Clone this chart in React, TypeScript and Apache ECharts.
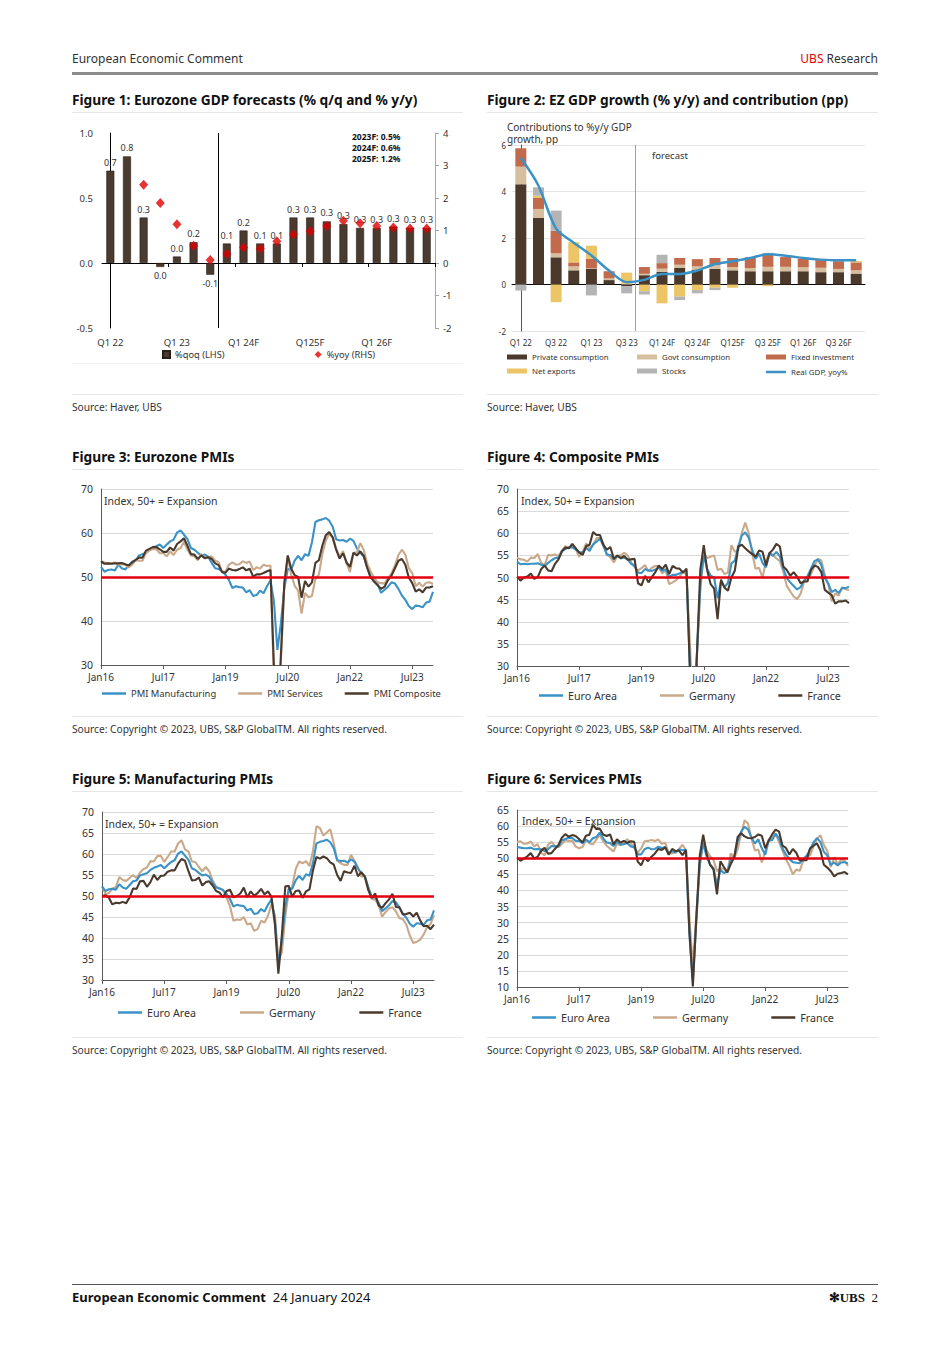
import React, { useEffect, useRef } from "react";
import * as echarts from "echarts";

const FONT = "'Noto Sans', 'Open Sans', sans-serif";
const TXT = "#333333";
const BLUE = "#3a92c6";
const TAN = "#c9a98a";
const DARK = "#4a3a2e";
const RED = "#e3000f";

// ---------- Figure 1 & 2 : quarters ----------
const QUARTERS = [
  "Q1 22", "Q2 22", "Q3 22", "Q4 22", "Q1 23", "Q2 23", "Q3 23", "Q4 23",
  "Q1 24F", "Q2 24F", "Q3 24F", "Q4 24F", "Q125F", "Q2 25F", "Q3 25F", "Q4 25F",
  "Q1 26F", "Q2 26F", "Q3 26F", "Q4 26F",
];
const GDP_QOQ = [0.71, 0.82, 0.35, -0.03, 0.05, 0.16, -0.09, 0.15, 0.25, 0.15, 0.15, 0.35, 0.35, 0.32, 0.3, 0.27, 0.27, 0.28, 0.27, 0.27];
const GDP_QOQ_LABELS = ["0.7", "0.8", "0.3", "0.0", "0.0", "0.2", "-0.1", "0.1", "0.2", "0.1", "0.1", "0.3", "0.3", "0.3", "0.3", "0.3", "0.3", "0.3", "0.3", "0.3"];
const GDP_YOY = [null, null, 2.41, 1.85, 1.19, 0.53, 0.09, 0.28, 0.48, 0.45, 0.67, 0.88, 0.98, 1.14, 1.3, 1.22, 1.14, 1.09, 1.06, 1.06];
const FORECAST_NOTE = "2023F: 0.5%\n2024F: 0.6%\n2025F: 1.2%";

const C_PRIVATE = [4.31, 2.86, 1.17, 0.61, 0.68, 0.19, -0.08, 0.4, 0.54, 0.71, 0.64, 0.67, 0.61, 0.57, 0.57, 0.57, 0.57, 0.53, 0.53, 0.47];
const C_GOVT = [0.76, 0.39, 0.17, 0.17, 0.02, 0.07, 0.03, 0.06, 0.14, 0.14, 0.14, 0.16, 0.14, 0.14, 0.19, 0.19, 0.17, 0.19, 0.14, 0.14];
const C_FIXED = [0.79, 0.47, 0.97, 0.17, 0.4, 0.31, 0.0, 0.29, 0.24, 0.29, 0.31, 0.31, 0.39, 0.46, 0.56, 0.42, 0.37, 0.33, 0.33, 0.34];
const C_NETEXP = [0.0, 0.1, -0.76, 0.87, 0.57, 0.0, 0.48, -0.29, -0.81, -0.52, -0.24, -0.14, -0.14, 0.0, -0.07, 0.0, 0.0, 0.0, 0.0, 0.06];
const C_STOCKS = [-0.26, 0.36, 0.87, 0.0, -0.47, 0.0, -0.3, -0.14, 0.36, -0.15, -0.14, -0.1, 0.0, 0.0, 0.04, 0.0, 0.0, 0.0, 0.0, 0.0];
const REAL_GDP_YOY = [5.45, 4.25, 2.4, 1.8, 1.25, 0.6, 0.1, 0.2, 0.45, 0.45, 0.6, 0.88, 1.0, 1.14, 1.3, 1.24, 1.14, 1.07, 1.04, 1.04];

// ---------- PMIs : monthly Jan16 .. Jan24 ----------
const MONTH_NAMES = ["Jan", "Feb", "Mar", "Apr", "May", "Jun", "Jul", "Aug", "Sep", "Oct", "Nov", "Dec"];
const MONTHS: string[] = [];
for (let y = 16; y <= 24; y++) {
  for (let m = 0; m < 12; m++) {
    if (y === 24 && m > 0) break;
    MONTHS.push(MONTH_NAMES[m] + y);
  }
}

const EZ_MFG = [
  52.3, 51.2, 51.6, 51.7, 51.5, 52.8, 52.0, 51.7, 52.6, 53.5, 53.7, 54.9,
  55.2, 55.4, 56.2, 56.7, 57.0, 57.4, 56.6, 57.4, 58.1, 58.5, 60.1, 60.6,
  59.6, 58.6, 56.6, 56.2, 55.5, 54.9, 55.1, 54.6, 53.2, 52.0, 51.8, 51.4,
  50.5, 49.3, 47.5, 47.9, 47.7, 47.6, 46.5, 47.0, 45.7, 45.9, 46.9, 46.3,
  47.9, 49.2, 44.5, 33.4, 39.4, 47.4, 51.8, 51.7, 53.7, 54.8, 53.8, 55.2,
  54.8, 57.9, 62.5, 62.9, 63.1, 63.4, 62.8, 61.4, 58.6, 58.3, 58.4, 58.0,
  58.7, 58.2, 56.5, 55.5, 54.6, 52.1, 49.8, 49.6, 48.4, 46.4, 47.1, 47.8,
  48.8, 48.5, 47.3, 45.8, 44.8, 43.4, 42.7, 43.5, 43.4, 43.1, 44.2, 44.4,
  46.6,
];
const EZ_SERV = [
  53.6, 53.3, 53.1, 53.1, 53.3, 52.8, 52.9, 52.8, 52.2, 52.8, 53.8, 53.7,
  53.7, 55.5, 56.0, 56.4, 56.3, 55.4, 55.4, 54.7, 55.8, 55.0, 56.2, 56.6,
  58.0, 56.2, 54.9, 54.7, 53.8, 55.2, 54.2, 54.4, 54.7, 53.7, 53.4, 51.2,
  51.2, 52.8, 53.3, 52.8, 52.9, 53.6, 53.2, 53.5, 51.6, 52.2, 51.9, 52.8,
  52.5, 52.6, 26.4, 12.0, 30.5, 48.3, 54.7, 50.5, 48.0, 46.9, 41.7, 46.4,
  45.4, 45.7, 49.6, 50.5, 55.2, 58.3, 59.8, 59.0, 56.4, 54.6, 55.9, 53.1,
  51.1, 55.5, 55.6, 57.7, 56.1, 53.0, 51.2, 49.8, 48.8, 48.6, 48.5, 49.8,
  50.8, 52.7, 55.0, 56.2, 55.1, 52.0, 50.9, 47.9, 48.7, 47.8, 48.7, 48.8,
  48.4,
];
const EZ_COMP = [
  53.6, 53.0, 53.1, 53.0, 53.1, 53.1, 53.2, 52.9, 52.6, 53.3, 53.9, 54.4,
  54.4, 56.0, 56.4, 56.8, 56.8, 56.3, 55.7, 55.7, 56.7, 56.0, 57.5, 58.1,
  58.8, 57.1, 55.2, 55.1, 54.1, 54.9, 54.3, 54.5, 54.1, 53.1, 52.7, 51.1,
  51.0, 51.9, 51.6, 51.5, 51.8, 52.2, 51.5, 51.9, 50.1, 50.6, 50.6, 50.9,
  51.3, 51.6, 29.7, 13.6, 31.9, 48.5, 54.9, 51.9, 50.4, 50.0, 45.3, 49.1,
  47.8, 48.8, 53.2, 53.8, 57.1, 59.5, 60.2, 59.0, 56.2, 54.2, 55.4, 53.3,
  52.3, 55.5, 54.9, 55.8, 54.8, 52.0, 49.9, 48.9, 48.1, 47.3, 47.8, 49.3,
  50.3, 52.0, 53.7, 54.1, 52.8, 49.9, 48.6, 46.7, 47.2, 46.5, 47.6, 47.6,
  47.9,
];
const DE_COMP = [
  54.5, 54.1, 54.0, 53.6, 54.5, 54.4, 55.3, 53.3, 52.8, 55.1, 55.0, 55.2,
  54.8, 56.1, 57.1, 56.7, 57.4, 56.4, 54.7, 55.8, 57.7, 56.6, 57.3, 58.9,
  59.0, 57.6, 55.1, 54.6, 53.4, 54.8, 55.0, 55.6, 55.0, 53.4, 52.3, 51.6,
  52.1, 52.8, 51.4, 52.2, 52.6, 52.6, 50.9, 51.7, 48.5, 48.9, 49.4, 50.2,
  51.2, 50.7, 35.0, 17.4, 32.3, 47.0, 55.3, 54.4, 54.7, 55.0, 51.7, 52.0,
  50.8, 51.1, 57.3, 55.8, 56.2, 60.1, 62.4, 60.0, 55.5, 52.0, 52.2, 49.9,
  53.8, 55.6, 55.1, 54.3, 53.7, 51.3, 48.1, 46.9, 45.7, 45.1, 46.3, 49.0,
  49.9, 50.7, 52.6, 54.2, 53.9, 50.6, 48.5, 44.6, 46.4, 45.9, 47.8, 47.4,
  47.1,
];
const FR_COMP = [
  50.2, 49.3, 50.0, 50.2, 50.9, 49.7, 50.1, 51.9, 52.7, 51.6, 51.4, 53.1,
  54.1, 55.9, 56.8, 56.6, 57.6, 56.6, 55.6, 55.1, 57.1, 57.4, 60.3, 59.6,
  59.6, 57.3, 56.3, 56.9, 54.2, 55.0, 54.4, 54.9, 54.0, 54.1, 54.2, 48.7,
  48.2, 50.4, 48.9, 50.1, 51.2, 52.7, 51.9, 52.9, 50.8, 52.6, 52.1, 52.0,
  51.1, 52.0, 28.9, 11.1, 32.1, 51.7, 57.3, 51.6, 48.5, 47.5, 40.6, 49.5,
  47.7, 47.0, 50.0, 51.6, 57.0, 57.4, 56.6, 55.9, 55.3, 54.7, 56.1, 55.8,
  52.7, 55.5, 56.3, 57.6, 57.0, 52.5, 51.7, 50.4, 51.2, 50.2, 48.7, 49.1,
  49.1, 51.7, 52.7, 52.4, 51.2, 47.2, 46.6, 46.0, 44.1, 44.6, 44.6, 44.8,
  44.2,
];
const DE_MFG = [
  52.3, 50.5, 50.7, 51.8, 52.1, 54.5, 53.8, 53.6, 54.3, 55.0, 54.3, 55.6,
  56.4, 56.8, 58.3, 58.2, 59.5, 59.6, 58.1, 59.3, 60.6, 60.6, 62.5, 63.3,
  61.1, 60.6, 58.2, 58.1, 56.9, 55.9, 56.9, 55.9, 53.7, 52.2, 51.8, 51.5,
  49.7, 47.6, 44.1, 44.4, 44.3, 45.0, 43.2, 43.5, 41.7, 42.1, 44.1, 43.7,
  45.3, 48.0, 45.4, 34.5, 36.6, 45.2, 51.0, 52.2, 56.4, 58.2, 57.8, 58.3,
  57.1, 60.7, 66.6, 66.2, 64.4, 65.1, 65.9, 62.6, 58.4, 57.8, 57.4, 57.4,
  59.8, 58.4, 56.9, 54.6, 54.8, 52.0, 49.3, 49.1, 47.8, 45.1, 46.2, 47.1,
  47.3, 46.3, 44.7, 44.5, 43.2, 40.6, 38.8, 39.1, 39.6, 40.8, 42.6, 43.3,
  45.4,
];
const FR_MFG = [
  50.0, 50.2, 49.6, 48.0, 48.4, 48.3, 48.6, 48.3, 49.7, 51.8, 51.7, 53.5,
  53.6, 52.2, 53.3, 55.1, 53.8, 54.8, 54.9, 55.8, 56.1, 56.1, 57.7, 58.8,
  58.4, 55.9, 53.7, 53.8, 54.4, 52.5, 53.3, 53.5, 52.5, 51.2, 50.8, 49.7,
  51.2, 51.5, 49.7, 50.0, 50.6, 52.0, 49.7, 51.1, 50.1, 50.7, 51.7, 50.4,
  51.1, 49.8, 43.2, 31.5, 40.6, 52.3, 52.4, 49.8, 51.2, 51.3, 49.6, 51.1,
  51.6, 56.1, 59.3, 58.9, 59.4, 59.0, 58.0, 57.5, 55.0, 53.6, 55.9, 55.6,
  55.5, 57.2, 54.7, 55.7, 54.6, 51.4, 49.5, 50.6, 47.7, 47.2, 48.3, 49.2,
  50.5, 47.4, 47.3, 45.6, 45.7, 46.0, 45.1, 46.0, 44.2, 42.8, 42.9, 42.1,
  43.2,
];
const DE_SERV = [
  55.0, 55.3, 54.5, 54.6, 55.2, 53.7, 54.4, 51.7, 50.9, 54.2, 55.1, 53.8,
  53.4, 54.4, 55.6, 55.4, 55.4, 53.7, 53.1, 53.5, 55.6, 54.7, 54.3, 55.8,
  57.3, 55.3, 53.9, 53.0, 52.1, 54.5, 54.1, 55.0, 55.9, 54.7, 53.3, 51.8,
  53.0, 55.3, 55.4, 55.7, 55.4, 55.8, 54.5, 54.8, 51.4, 51.6, 51.7, 52.9,
  54.2, 52.5, 31.7, 16.2, 32.6, 47.3, 55.6, 52.5, 50.6, 49.5, 46.0, 47.0,
  46.7, 45.7, 51.5, 49.9, 52.8, 57.5, 61.8, 60.8, 56.2, 52.4, 52.7, 48.7,
  52.2, 55.8, 56.1, 57.6, 55.0, 52.4, 49.7, 47.7, 45.0, 46.5, 46.1, 49.2,
  50.7, 50.9, 53.7, 56.0, 57.2, 54.1, 52.3, 47.3, 50.3, 48.2, 49.6, 49.3,
  47.6,
];
const FR_SERV = [
  50.3, 49.2, 49.9, 50.6, 51.6, 49.9, 50.5, 52.3, 53.3, 51.4, 51.6, 52.9,
  54.1, 56.4, 57.5, 56.7, 57.2, 56.9, 56.0, 54.9, 57.0, 57.3, 60.4, 59.1,
  59.2, 57.4, 56.9, 57.4, 54.3, 55.9, 54.9, 55.4, 54.8, 55.3, 55.1, 49.0,
  47.8, 50.2, 49.1, 50.5, 51.5, 52.9, 52.6, 53.4, 51.1, 52.9, 52.2, 52.4,
  51.0, 52.5, 27.4, 10.2, 31.1, 50.7, 57.3, 51.5, 48.0, 46.5, 38.8, 49.1,
  47.3, 45.6, 48.2, 50.3, 56.6, 57.8, 56.8, 56.3, 56.2, 56.6, 57.4, 57.0,
  53.1, 55.5, 57.4, 58.9, 58.3, 53.9, 53.2, 51.2, 52.9, 51.7, 49.3, 49.5,
  49.4, 53.1, 53.9, 54.6, 52.5, 48.0, 47.1, 46.0, 44.4, 45.2, 45.4, 45.7,
  45.0,
];

// ---------- chart component ----------
function Chart({ option, left, top, width, height }: any) {
  const ref = useRef<HTMLDivElement>(null);
  useEffect(() => {
    const c = echarts.init(ref.current as HTMLDivElement, null, { renderer: "svg" });
    c.setOption(option);
    return () => c.dispose();
  }, []);
  return <div ref={ref} style={{ position: "absolute", left, top, width, height }} />;
}

// ---------- Figure 1 ----------
function fig1Option() {
  const bars = GDP_QOQ.map((v) => ({
    value: v,
    label: { position: v < 0 ? "bottom" : "top" },
  }));
  return {
    animation: false,
    textStyle: { fontFamily: FONT },
    grid: { left: 30, right: 28, top: 18, bottom: 42 },
    xAxis: [
      {
        type: "category", data: QUARTERS, position: "bottom",
        axisLine: { show: false, onZero: false }, axisTick: { show: false },
        axisLabel: { interval: 3, fontSize: 9.5, color: TXT, margin: 9 },
      },
      {
        type: "category", data: QUARTERS, position: "bottom",
        axisLine: { show: true, onZero: true, lineStyle: { color: "#000", width: 1 } },
        axisTick: { show: true, interval: (i: number) => i % 4 === 0 && i > 0, length: 4, lineStyle: { color: "#000" } },
        axisLabel: { show: false },
      },
      { type: "value", min: -0.5, max: 19.5, show: false },
    ],
    yAxis: [
      {
        type: "value", min: -0.5, max: 1.0, interval: 0.5,
        splitLine: { show: false },
        axisLine: { show: true, lineStyle: { color: "#000" } }, axisTick: { show: false },
        axisLabel: { formatter: (v: number) => v.toFixed(1), fontSize: 9.5, color: TXT, margin: 9 },
      },
      {
        type: "value", min: -2, max: 4, interval: 1, position: "right",
        splitLine: { show: false },
        axisLine: { show: true, lineStyle: { color: "#a6a6a6" } },
        axisTick: { show: true, length: 4, lineStyle: { color: "#a6a6a6" } },
        axisLabel: { fontSize: 9.5, color: TXT, margin: 8 },
      },
    ],
    legend: {
      left: 85, top: 230, itemGap: 90, itemWidth: 7, itemHeight: 7,
      textStyle: { fontSize: 9.3, color: TXT, fontFamily: FONT },
      data: [{ name: "%qoq (LHS)", icon: "rect" }, { name: "%yoy (RHS)", icon: "diamond" }],
    },
    graphic: [
      {
        type: "text", left: 280, top: 16,
        style: { text: FORECAST_NOTE, fontSize: 8.5, fontWeight: "bold", fill: "#111", lineHeight: 11, fontFamily: FONT },
      },
    ],
    series: [
      {
        type: "bar", name: "%qoq (LHS)", xAxisIndex: 0, yAxisIndex: 0, data: bars, barWidth: 8,
        itemStyle: { color: "#4a3b30", borderColor: "#2a1f18", borderWidth: 0.6 },
        label: { show: true, fontSize: 9, color: TXT, distance: 4, formatter: (p: any) => GDP_QOQ_LABELS[p.dataIndex] },
      },
      {
        type: "scatter", name: "%yoy (RHS)", xAxisIndex: 0, yAxisIndex: 1, data: GDP_YOY,
        symbol: "diamond", symbolSize: [9, 10], itemStyle: { color: "#e00000" }, z: 5,
      },
      {
        type: "line", xAxisIndex: 2, yAxisIndex: 0, data: [[6.5, 0]], symbol: "none", silent: true,
        markLine: {
          symbol: "none", silent: true, label: { show: false },
          lineStyle: { color: "#000", width: 1, type: "solid" }, data: [{ xAxis: 6.5 }],
        },
      },
    ],
  };
}

// ---------- Figure 2 ----------
function fig2Option() {
  const barBase = { type: "bar", stack: "contrib", barWidth: 11, xAxisIndex: 0 };
  const legendBase = {
    orient: "vertical", top: 233, itemGap: 6, itemWidth: 20, itemHeight: 5,
    textStyle: { fontSize: 7.9, color: TXT, fontFamily: FONT },
  };
  return {
    animation: false,
    textStyle: { fontFamily: FONT },
    grid: { left: 25, right: 13, top: 30, bottom: 59 },
    xAxis: [
      {
        type: "category", data: QUARTERS, position: "bottom",
        axisLine: { show: false, onZero: false }, axisTick: { show: false },
        axisLabel: { interval: 1, fontSize: 8, color: TXT, margin: 7 },
      },
      {
        type: "category", data: QUARTERS, position: "bottom",
        axisLine: { show: true, onZero: true, lineStyle: { color: "#000", width: 1 } },
        axisTick: { show: false }, axisLabel: { show: false },
      },
      { type: "value", min: -0.5, max: 19.5, show: false },
    ],
    yAxis: {
      type: "value", min: -2, max: 6, interval: 2,
      axisLine: { show: true, lineStyle: { color: "#555" } }, axisTick: { show: false },
      splitLine: { lineStyle: { color: "#e4e4e4" } },
      axisLabel: { fontSize: 8, color: TXT, margin: 6 },
    },
    legend: [
      { ...legendBase, left: 15, data: [{ name: "Private consumption", icon: "rect" }, { name: "Net exports", icon: "rect" }] },
      { ...legendBase, left: 145, data: [{ name: "Govt consumption", icon: "rect" }, { name: "Stocks", icon: "rect" }] },
      { ...legendBase, left: 274, data: [{ name: "Fixed investment", icon: "rect" }] },
      { ...legendBase, left: 274, top: 248, itemHeight: 2.5, data: [{ name: "Real GDP, yoy%", icon: "rect" }] },
    ],
    graphic: [
      { type: "text", left: 20, top: 6, style: { text: "Contributions to %y/y GDP\ngrowth, pp", fontSize: 10, lineHeight: 12, fill: TXT, fontFamily: FONT } },
      { type: "text", left: 165, top: 35, style: { text: "forecast", fontSize: 9.5, fill: TXT, fontFamily: FONT } },
    ],
    series: [
      { ...barBase, name: "Private consumption", data: C_PRIVATE, itemStyle: { color: "#4b3a2c" } },
      { ...barBase, name: "Govt consumption", data: C_GOVT, itemStyle: { color: "#d6bf9f" } },
      { ...barBase, name: "Fixed investment", data: C_FIXED, itemStyle: { color: "#c26a4c" } },
      { ...barBase, name: "Net exports", data: C_NETEXP, itemStyle: { color: "#ebc566" } },
      { ...barBase, name: "Stocks", data: C_STOCKS, itemStyle: { color: "#b4b4b4" } },
      {
        type: "line", name: "Real GDP, yoy%", data: REAL_GDP_YOY, xAxisIndex: 0, symbol: "none", smooth: 0.3,
        lineStyle: { color: BLUE, width: 2.5 }, itemStyle: { color: BLUE }, z: 5,
      },
      {
        type: "line", xAxisIndex: 2, data: [[6.5, 0]], symbol: "none", silent: true,
        markLine: {
          symbol: "none", silent: true, label: { show: false },
          lineStyle: { color: "#a0a0a0", width: 1, type: "solid" }, data: [{ xAxis: 6.5 }],
        },
      },
    ],
  };
}

// ---------- PMI figures ----------
function pmiOption(o: any) {
  return {
    animation: false,
    textStyle: { fontFamily: FONT },
    grid: o.grid,
    xAxis: {
      type: "category", data: MONTHS, boundaryGap: false,
      axisLine: { onZero: false, lineStyle: { color: "#595959" } },
      axisTick: { show: true, interval: 17, length: 4, lineStyle: { color: "#595959" } },
      axisLabel: { interval: 17, fontSize: 10, color: TXT, margin: 7 },
      splitLine: { show: false },
    },
    yAxis: {
      type: "value", min: o.min, max: o.max, interval: o.interval,
      axisLine: { show: true, lineStyle: { color: "#595959" } }, axisTick: { show: false },
      splitLine: { lineStyle: { color: "#d9d9d9" } },
      axisLabel: { fontSize: 10.5, color: TXT, margin: 8 },
    },
    legend: {
      left: o.legendLeft, top: o.legendTop, itemGap: o.legendGap, itemWidth: 24, itemHeight: 2.5,
      textStyle: { fontSize: o.legendFont, color: TXT, fontFamily: FONT },
      data: o.legendData.map((n: string) => ({ name: n, icon: "rect" })),
    },
    graphic: [
      { type: "text", left: o.noteLeft, top: o.noteTop, style: { text: "Index, 50+ = Expansion", fontSize: 10.5, fill: TXT, fontFamily: FONT } },
    ],
    series: [
      ...o.series.map((s: any) => ({
        type: "line", name: s.name, data: s.data, symbol: "none", clip: true,
        lineStyle: { width: 2.1, color: s.color }, itemStyle: { color: s.color },
      })),
      {
        type: "line", data: [], silent: true, z: 6,
        markLine: {
          symbol: "none", silent: true, label: { show: false },
          lineStyle: { color: RED, width: 2.5, type: "solid" }, data: [{ yAxis: 50 }],
        },
      },
    ],
  };
}

const fig3 = () =>
  pmiOption({
    grid: { left: 29, right: 30, top: 11, bottom: 43 }, min: 30, max: 70, interval: 10,
    legendLeft: 25, legendTop: 206, legendGap: 22, legendFont: 9.4,
    legendData: ["PMI Manufacturing", "PMI Services", "PMI Composite"],
    noteLeft: 32, noteTop: 17,
    series: [
      { name: "PMI Manufacturing", data: EZ_MFG, color: BLUE },
      { name: "PMI Services", data: EZ_SERV, color: TAN },
      { name: "PMI Composite", data: EZ_COMP, color: DARK },
    ],
  });

const fig4 = () =>
  pmiOption({
    grid: { left: 30, right: 29, top: 11, bottom: 42 }, min: 30, max: 70, interval: 5,
    legendLeft: 47, legendTop: 207, legendGap: 43, legendFont: 10.7,
    legendData: ["Euro Area", "Germany", "France"],
    noteLeft: 34, noteTop: 17,
    series: [
      { name: "Germany", data: DE_COMP, color: TAN },
      { name: "Euro Area", data: EZ_COMP, color: BLUE },
      { name: "France", data: FR_COMP, color: DARK },
    ],
  });

const fig5 = () =>
  pmiOption({
    grid: { left: 30, right: 29, top: 12, bottom: 45 }, min: 30, max: 70, interval: 5,
    legendLeft: 41, legendTop: 202, legendGap: 44, legendFont: 10.7,
    legendData: ["Euro Area", "Germany", "France"],
    noteLeft: 33, noteTop: 18,
    series: [
      { name: "Germany", data: DE_MFG, color: TAN },
      { name: "Euro Area", data: EZ_MFG, color: BLUE },
      { name: "France", data: FR_MFG, color: DARK },
    ],
  });

const fig6 = () =>
  pmiOption({
    grid: { left: 30, right: 30, top: 10, bottom: 48 }, min: 10, max: 65, interval: 5,
    legendLeft: 40, legendTop: 207, legendGap: 43, legendFont: 10.7,
    legendData: ["Euro Area", "Germany", "France"],
    noteLeft: 35, noteTop: 15,
    series: [
      { name: "Germany", data: DE_SERV, color: TAN },
      { name: "Euro Area", data: EZ_SERV, color: BLUE },
      { name: "France", data: FR_SERV, color: DARK },
    ],
  });

// ---------- page pieces ----------
function Txt({ x, y, size = 10, bold = false, children, right = false, family = FONT, color = TXT }: any) {
  const lh = Math.round(size * 1.3);
  const style: any = {
    position: "absolute", top: y - lh / 2, lineHeight: lh + "px", fontSize: size,
    fontWeight: bold ? 700 : 400, fontFamily: family, color, whiteSpace: "nowrap",
  };
  if (right) style.right = 950 - x;
  else style.left = x;
  return <div style={style}>{children}</div>;
}

function Rule({ x, y, w, h = 1, color = "#e6e6e6" }: any) {
  return <div style={{ position: "absolute", left: x, top: y, width: w, height: h, background: color }} />;
}

const SOURCE_PMI = "Source: Copyright © 2023, UBS, S&P GlobalTM. All rights reserved.";

export default function App() {
  return (
    <div style={{ position: "absolute", left: 0, top: 0, width: 950, height: 1345, background: "#fff", overflow: "hidden" }}>
      {/* header */}
      <Txt x={72} y={59} size={12}>European Economic Comment</Txt>
      <Txt x={878} y={59} size={12} right>
        <span style={{ color: "#e60000" }}>UBS</span> Research
      </Txt>
      <Rule x={72} y={72} w={806} h={2.5} color="#8c8c8c" />

      {/* row 1 */}
      <Txt x={72} y={100} size={13.7} bold color="#111">Figure 1: Eurozone GDP forecasts (% q/q and % y/y)</Txt>
      <Txt x={487} y={100} size={13.7} bold color="#111">Figure 2: EZ GDP growth (% y/y) and contribution (pp)</Txt>
      <Rule x={72} y={112} w={391} />
      <Rule x={487} y={112} w={391} />
      <Chart option={fig1Option()} left={72} top={115} width={391} height={255} />
      <Chart option={fig2Option()} left={487} top={115} width={391} height={275} />
      <Rule x={72} y={363} w={391} color="#f0f0f0" />
      <Rule x={72} y={394} w={391} />
      <Rule x={487} y={394} w={391} />
      <Txt x={72} y={407} size={10.2}>Source: Haver, UBS</Txt>
      <Txt x={487} y={407} size={10.2}>Source: Haver, UBS</Txt>

      {/* row 2 */}
      <Txt x={72} y={457} size={13.7} bold color="#111">Figure 3: Eurozone PMIs</Txt>
      <Txt x={487} y={457} size={13.7} bold color="#111">Figure 4: Composite PMIs</Txt>
      <Rule x={72} y={469} w={391} />
      <Rule x={487} y={469} w={391} />
      <Chart option={fig3()} left={72} top={478} width={391} height={230} />
      <Chart option={fig4()} left={487} top={478} width={391} height={230} />
      <Rule x={72} y={716} w={391} />
      <Rule x={487} y={716} w={391} />
      <Txt x={72} y={729} size={10.2}>{SOURCE_PMI}</Txt>
      <Txt x={487} y={729} size={10.2}>{SOURCE_PMI}</Txt>

      {/* row 3 */}
      <Txt x={72} y={779} size={13.7} bold color="#111">Figure 5: Manufacturing PMIs</Txt>
      <Txt x={487} y={779} size={13.7} bold color="#111">Figure 6: Services PMIs</Txt>
      <Rule x={72} y={791} w={391} />
      <Rule x={487} y={791} w={391} />
      <Chart option={fig5()} left={72} top={800} width={391} height={225} />
      <Chart option={fig6()} left={487} top={800} width={391} height={235} />
      <Rule x={72} y={1037} w={391} />
      <Rule x={487} y={1037} w={391} />
      <Txt x={72} y={1050} size={10.2}>{SOURCE_PMI}</Txt>
      <Txt x={487} y={1050} size={10.2}>{SOURCE_PMI}</Txt>

      {/* footer */}
      <Rule x={72} y={1284} w={806} h={1} color="#555" />
      <Txt x={72} y={1297} size={13} color="#111">
        <b>European Economic Comment</b>&nbsp;&nbsp;24 January 2024
      </Txt>
      <Txt x={878} y={1297} size={13} right family="'Liberation Serif', 'DejaVu Serif', serif" color="#111">
        <b>✻UBS</b>&nbsp;&nbsp;2
      </Txt>
    </div>
  );
}
